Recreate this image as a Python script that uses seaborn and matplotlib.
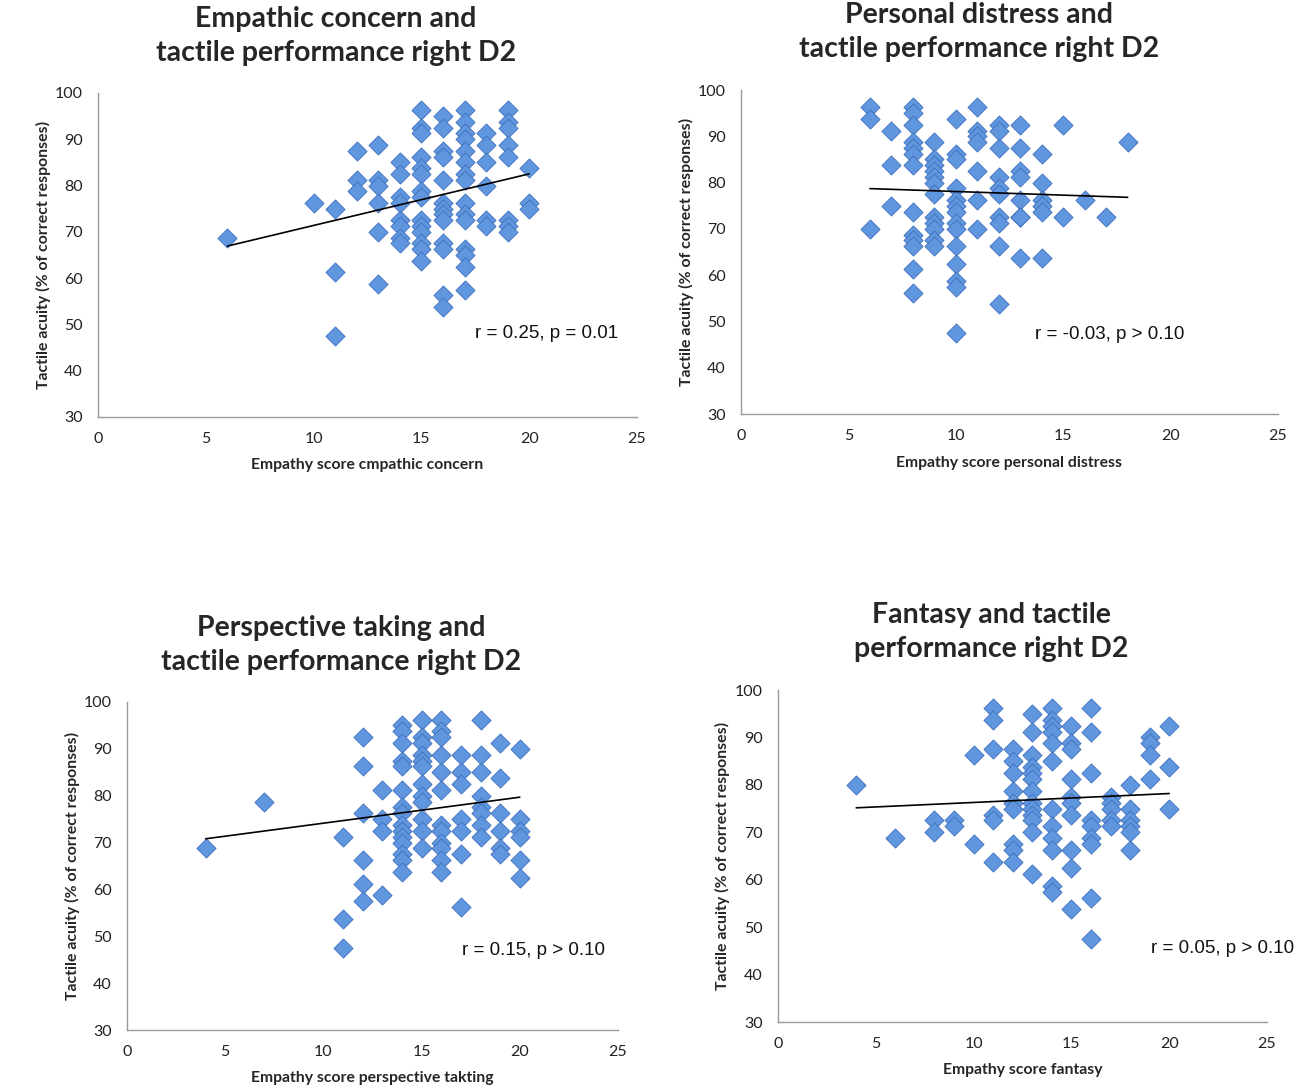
import numpy as np
import matplotlib
matplotlib.use("Agg")
import matplotlib.pyplot as plt
import seaborn as sns

# -------------------------------
# Data
# (x = empathy subscale score, y = tactile acuity in % correct)
# -------------------------------
ec_score = [6, 10, 11, 11, 11, 12, 12, 12,
            13, 13, 13, 13, 13, 13,
            14, 14, 14, 14, 14, 14, 14, 14,
            15, 15, 15, 15, 15, 15, 15, 15, 15, 15, 15, 15, 15, 15,
            16, 16, 16, 16, 16, 16, 16, 16, 16, 16, 16, 16, 16,
            17, 17, 17, 17, 17, 17, 17, 17, 17, 17, 17, 17, 17, 17, 17,
            18, 18, 18, 18, 18, 18,
            19, 19, 19, 19, 19, 19, 19, 19,
            20, 20, 20]
ec_acuity = [68.75, 76.25, 75, 61.25, 47.5, 87.5, 81.25, 78.75,
             88.75, 81.25, 80, 76.25, 70, 58.75,
             85, 82.5, 77.5, 76.25, 72.5, 71.25, 68.75, 67.5,
             96.25, 92.5, 91.25, 86.25, 83.75, 82.5, 78.75, 77.5, 72.5, 71.25, 70, 67.5, 66.25, 63.75,
             95, 92.5, 87.5, 86.25, 81.25, 76.25, 75, 73.75, 72.5, 67.5, 66.25, 56.25, 53.75,
             96.25, 93.75, 91.25, 90, 87.5, 85, 82.5, 81.25, 76.25, 73.75, 72.5, 66.25, 65, 62.5, 57.5,
             91.25, 88.75, 85, 80, 72.5, 71.25,
             96.25, 93.75, 92.5, 88.75, 86.25, 72.5, 71.25, 70,
             83.75, 76.25, 75]

pd_score = [6, 6, 6, 7, 7, 7,
            8, 8, 8, 8, 8, 8, 8, 8, 8, 8, 8, 8, 8,
            9, 9, 9, 9, 9, 9, 9, 9, 9, 9, 9, 9,
            10, 10, 10, 10, 10, 10, 10, 10, 10, 10, 10, 10, 10, 10,
            11, 11, 11, 11, 11, 11, 11,
            12, 12, 12, 12, 12, 12, 12, 12, 12, 12,
            13, 13, 13, 13, 13, 13, 13, 13,
            14, 14, 14, 14, 14, 14,
            15, 15, 16, 17, 18]
pd_acuity = [96.25, 93.75, 70, 91.25, 83.75, 75,
             96.25, 95, 92.5, 88.75, 87.5, 86.25, 83.75, 73.75, 68.75, 67.5, 66.25, 61.25, 56.25,
             88.75, 85, 83.75, 82.5, 81.25, 80, 77.5, 72.5, 71.25, 70, 67.5, 66.25,
             93.75, 86.25, 85, 78.75, 76.25, 75, 73.75, 71.25, 70, 66.25, 62.5, 58.75, 57.5, 47.5,
             96.25, 91.25, 90, 88.75, 82.5, 76.25, 70,
             92.5, 91.25, 87.5, 81.25, 78.75, 77.5, 72.5, 71.25, 66.25, 53.75,
             92.5, 87.5, 82.5, 81.25, 76.25, 72.5, 72.5, 63.75,
             86.25, 80, 76.25, 75, 73.75, 63.75,
             92.5, 72.5, 76.25, 72.5, 88.75]

pt_score = [4, 7, 11, 11, 11,
            12, 12, 12, 12, 12, 12,
            13, 13, 13, 13,
            14, 14, 14, 14, 14, 14, 14, 14, 14, 14, 14, 14, 14, 14, 14,
            15, 15, 15, 15, 15, 15, 15, 15, 15, 15, 15, 15,
            16, 16, 16, 16, 16, 16, 16, 16, 16, 16, 16, 16,
            17, 17, 17, 17, 17, 17, 17,
            18, 18, 18, 18, 18, 18, 18, 18,
            19, 19, 19, 19, 19, 19,
            20, 20, 20, 20, 20, 20]
pt_acuity = [68.75, 78.75, 71.25, 53.75, 47.5,
             92.5, 86.25, 76.25, 66.25, 61.25, 57.5,
             81.25, 75, 72.5, 58.75,
             95, 93.75, 91.25, 87.5, 86.25, 81.25, 77.5, 76.25, 73.75, 72.5, 71.25, 70, 67.5, 66.25, 63.75,
             96.25, 92.5, 91.25, 88.75, 87.5, 86.25, 82.5, 80, 78.75, 75, 72.5, 68.75,
             96.25, 93.75, 92.5, 88.75, 85, 81.25, 73.75, 72.5, 70, 68.75, 66.25, 63.75,
             88.75, 85, 82.5, 75, 72.5, 67.5, 56.25,
             96.25, 88.75, 85, 80, 77.5, 76.25, 73.75, 71.25,
             91.25, 83.75, 76.25, 72.5, 68.75, 67.5,
             90, 75, 72.5, 71.25, 66.25, 62.5]

fs_score = [4, 6, 8, 8, 9, 9, 10, 10,
            11, 11, 11, 11, 11, 11,
            12, 12, 12, 12, 12, 12, 12, 12, 12,
            13, 13, 13, 13, 13, 13, 13, 13, 13, 13, 13, 13, 13,
            14, 14, 14, 14, 14, 14, 14, 14, 14, 14, 14, 14,
            15, 15, 15, 15, 15, 15, 15, 15, 15, 15,
            16, 16, 16, 16, 16, 16, 16, 16, 16,
            17, 17, 17, 17, 17,
            18, 18, 18, 18, 18, 18,
            19, 19, 19, 19,
            20, 20, 20]
fs_acuity = [80, 68.75, 72.5, 70, 72.5, 71.25, 86.25, 67.5,
             96.25, 93.75, 87.5, 73.75, 72.5, 63.75,
             87.5, 85, 82.5, 78.75, 76.25, 75, 67.5, 66.25, 63.75,
             95, 91.25, 86.25, 83.75, 82.5, 81.25, 78.75, 76.25, 75, 73.75, 72.5, 70, 61.25,
             96.25, 93.75, 92.5, 91.25, 88.75, 85, 75, 71.25, 68.75, 66.25, 58.75, 57.5,
             92.5, 88.75, 87.5, 81.25, 77.5, 76.25, 73.75, 66.25, 62.5, 53.75,
             96.25, 91.25, 82.5, 72.5, 71.25, 68.75, 67.5, 56.25, 47.5,
             77.5, 76.25, 75, 72.5, 71.25,
             80, 75, 72.5, 71.25, 70, 66.25,
             90, 88.75, 86.25, 81.25,
             92.5, 83.75, 75]

titles = ["Empathic concern and\ntactile performance right D2",
          "Personal distress and\ntactile performance right D2",
          "Perspective taking and\ntactile performance right D2",
          "Fantasy and tactile\nperformance right D2"]
xlabels = ["Empathy score cmpathic concern",
           "Empathy score personal distress",
           "Empathy score perspective takting",
           "Empathy score fantasy"]
stats_text = ["r = 0.25, p = 0.01", "r = -0.03, p > 0.10",
              "r = 0.15, p > 0.10", "r = 0.05, p > 0.10"]

# -------------------------------
# Layout (pixel positions measured from the reference)
# -------------------------------
W, H = 1300, 1087
# axes box: left, right, top, bottom in pixels
boxes = [(98, 637, 93, 417), (741, 1278, 90, 414),
         (127, 618, 702, 1030), (778, 1267, 690, 1022)]
title_pos = [(336, 36), (979, 32), (341, 645), (991, 632)]
stats_pos = [(17.5, 48.0), (13.7, 47.1), (17.05, 46.9), (19.05, 45.6)]
xlabel_y = [465, 463, 1078, 1070]
ylabel_x = [43, 686, 72, 722]

sns.set_style("white")
plt.rcParams['font.family'] = ['Lato', 'DejaVu Sans']

fig = plt.figure(figsize=(W / 100, H / 100), dpi=100)

datasets = [(ec_score, ec_acuity), (pd_score, pd_acuity),
            (pt_score, pt_acuity), (fs_score, fs_acuity)]

fill = '#6096de'
edge = '#3f70bd'

for i, (xs, ys) in enumerate(datasets):
    l, r, t, b = boxes[i]
    ax = fig.add_axes([l / W, 1 - b / H, (r - l) / W, (b - t) / H])

    sns.regplot(x=np.array(xs), y=np.array(ys), ax=ax, ci=None, marker='D',
                scatter_kws=dict(s=95, color=fill, edgecolor=edge,
                                 linewidths=0.6, alpha=1),
                line_kws=dict(color='black', lw=1.2, zorder=3))

    ax.set_xlim(0, 25)
    ax.set_ylim(30, 100)
    ax.set_xticks(range(0, 26, 5))
    ax.set_yticks(range(30, 101, 10))
    for side in ['top', 'right']:
        ax.spines[side].set_visible(False)
    for side in ['left', 'bottom']:
        ax.spines[side].set_color('#9a9a9a')
        ax.spines[side].set_linewidth(1.0)
    ax.tick_params(axis='both', direction='out', length=5, width=1,
                   color='#9a9a9a', labelsize=11.5, labelcolor='#222222', pad=6)

    ax.set_xlabel(xlabels[i], fontsize=11.3, fontweight='bold')
    ax.xaxis.set_label_coords(0.5, -(xlabel_y[i] - b) / (b - t))
    ax.xaxis.label.set_va('center')
    ax.set_ylabel("Tactile acuity (% of correct responses)",
                  fontsize=11.4, fontweight='bold')
    ax.yaxis.set_label_coords(-(l - ylabel_x[i]) / (r - l), 0.5)
    ax.yaxis.label.set_va('center')

    ax.text(stats_pos[i][0], stats_pos[i][1], stats_text[i],
            fontsize=13.5, family='Liberation Sans', ha='left', va='center',
            color='#111111')

    tx, ty = title_pos[i]
    fig.text(tx / W, 1 - ty / H, titles[i], ha='center', va='center',
             fontsize=20.5, fontweight='bold', linespacing=1.4)

fig.savefig('out.png', dpi=100)
